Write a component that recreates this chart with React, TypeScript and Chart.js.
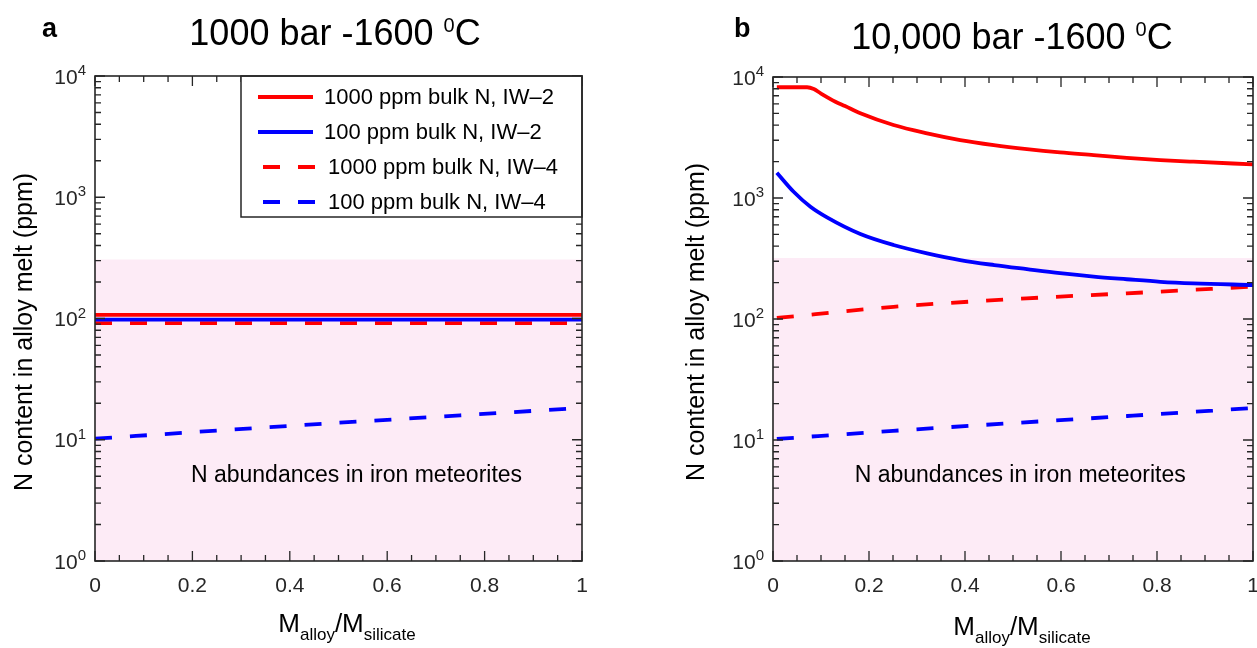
import React, { useEffect, useRef } from "react";
import { Chart, registerables } from "chart.js";
Chart.register(...registerables);

const FONT = '"Liberation Sans", Arial, Helvetica, sans-serif';
const RED = "#ff0000";
const BLUE = "#0000ff";
const PINK = "rgb(253,235,246)";
const AXIS = "#262626";

const seriesLabels = [
  "1000 ppm bulk N, IW\u20132",
  "100 ppm bulk N, IW\u20132",
  "1000 ppm bulk N, IW\u20134",
  "100 ppm bulk N, IW\u20134",
];
const noteText = "N abundances in iron meteorites";
const yAxisTitle = "N content in alloy melt (ppm)";

const xTicks = [0, 0.2, 0.4, 0.6, 0.8, 1];
const xTickLabels = ["0", "0.2", "0.4", "0.6", "0.8", "1"];
const yDecades = [0, 1, 2, 3, 4];
const yTickBase = "10";

// Panel a: 1000 bar
const aFlatX = [0, 1];
const aRedSolid = [107, 107];
const aBlueSolid = [98, 98];
const aRedDash = [91.5, 91.5];
const aBlueDashX = [0, 0.25, 0.5, 0.75, 1];
const aBlueDash = [10.2, 11.9, 13.8, 15.9, 18.3];
const aBandTop = 307;

// Panel b: 10,000 bar
const bRedSolidX = [0.008, 0.071, 0.085, 0.1, 0.13, 0.15, 0.182, 0.251, 0.321, 0.39, 0.46, 0.529, 0.598, 0.668, 0.737, 0.807, 0.876, 1];
const bRedSolid = [8225, 8225, 7950, 7300, 6250, 5750, 5010, 4010, 3425, 3015, 2740, 2540, 2385, 2265, 2150, 2060, 1995, 1897];
const bBlueSolidX = [0.008, 0.043, 0.078, 0.1125, 0.182, 0.251, 0.321, 0.39, 0.461, 0.529, 0.598, 0.668, 0.737, 0.807, 0.876, 1];
const bBlueSolid = [1620, 1127, 847, 692, 504, 409, 349, 307, 279, 258, 239, 224, 213, 203, 197, 191];
const bRedDashX = [0.008, 0.251, 0.528, 0.737, 1];
const bRedDash = [102, 126, 148, 163, 185];
const bBlueDashX = [0.008, 0.25, 0.5, 0.75, 1];
const bBlueDash = [10.2, 11.9, 13.8, 15.9, 18.4];
const bBandTop = 320;

const xy = (xs: number[], ys: number[]) => xs.map((x, i) => ({ x, y: ys[i] }));

type Part = { t: string; size: number; dy: number; bold?: boolean };

function drawParts(ctx: CanvasRenderingContext2D, parts: Part[], cx: number, base: number, align: "center" | "left" = "center") {
  let total = 0;
  const widths = parts.map((p) => {
    ctx.font = `${p.bold ? "bold " : ""}${p.size}px ${FONT}`;
    const w = ctx.measureText(p.t).width;
    total += w;
    return w;
  });
  let x = align === "center" ? cx - total / 2 : cx;
  ctx.textAlign = "left";
  ctx.textBaseline = "alphabetic";
  parts.forEach((p, i) => {
    ctx.font = `${p.bold ? "bold " : ""}${p.size}px ${FONT}`;
    ctx.fillText(p.t, x, base + p.dy);
    x += widths[i];
  });
}

const matlabPlugin = {
  id: "matlab",
  afterDraw(chart: any) {
    const cfg = chart.options.plugins.matlab;
    if (!cfg) return;
    const ctx: CanvasRenderingContext2D = chart.ctx;
    const ca = chart.chartArea;
    const xs = chart.scales.x;
    const ys = chart.scales.y;
    ctx.save();
    ctx.strokeStyle = AXIS;
    ctx.fillStyle = "#000";
    ctx.lineWidth = 1.3;
    ctx.beginPath();
    for (let i = 0; i <= 20; i++) {
      const v = i * 0.05;
      const px = xs.getPixelForValue(v);
      const len = i % 4 === 0 ? 10 : 6;
      ctx.moveTo(px, ca.bottom);
      ctx.lineTo(px, ca.bottom - len);
      ctx.moveTo(px, ca.top);
      ctx.lineTo(px, ca.top + len);
    }
    for (const d of yDecades) {
      for (let m = 1; m <= 9; m++) {
        if (d === 4 && m > 1) break;
        const py = ys.getPixelForValue(m * Math.pow(10, d));
        const len = m === 1 ? 10 : 6;
        ctx.moveTo(ca.left, py);
        ctx.lineTo(ca.left + len, py);
        ctx.moveTo(ca.right, py);
        ctx.lineTo(ca.right - len, py);
      }
    }
    ctx.stroke();

    // legend
    if (cfg.legend) {
      const w = 341, h = 141;
      const L = ca.right - w, T = ca.top;
      ctx.fillStyle = "#fff";
      ctx.fillRect(L, T, w, h);
      ctx.lineWidth = 1.5;
      ctx.strokeStyle = AXIS;
      ctx.strokeRect(L, T, w, h);
      const rows = [21, 56, 91, 126];
      const ds = chart.data.datasets.filter((d: any) => d.label);
      ds.forEach((d: any, i: number) => {
        const y = T + rows[i];
        const dashed = d.borderDash && d.borderDash.length;
        ctx.save();
        ctx.strokeStyle = d.borderColor;
        ctx.lineWidth = d.borderWidth;
        if (dashed) ctx.setLineDash(d.borderDash);
        ctx.beginPath();
        ctx.moveTo(L + (dashed ? 22 : 17), y);
        ctx.lineTo(L + (dashed ? 76 : 72), y);
        ctx.stroke();
        ctx.restore();
        ctx.fillStyle = "#000";
        ctx.font = `22px ${FONT}`;
        ctx.textAlign = "left";
        ctx.textBaseline = "middle";
        ctx.fillText(d.label, L + (dashed ? 87 : 83), y + 1);
      });
    }

    // axes box
    ctx.lineWidth = 1.6;
    ctx.strokeStyle = AXIS;
    ctx.strokeRect(ca.left, ca.top, ca.right - ca.left, ca.bottom - ca.top);

    // x tick labels
    ctx.font = `21px ${FONT}`;
    ctx.textAlign = "center";
    ctx.textBaseline = "alphabetic";
    ctx.fillStyle = "#262626";
    xTicks.forEach((v, i) => {
      ctx.fillText(xTickLabels[i], xs.getPixelForValue(v), ca.bottom + 31);
    });
    // y tick labels
    yDecades.forEach((d) => {
      const py = ys.getPixelForValue(Math.pow(10, d));
      ctx.font = `15px ${FONT}`;
      const sup = String(d);
      const sw = ctx.measureText(sup).width;
      const supX = ca.left - 9 - sw;
      ctx.textAlign = "left";
      ctx.fillText(sup, supX, py - 1);
      ctx.font = `21px ${FONT}`;
      ctx.textAlign = "right";
      ctx.fillText(yTickBase, supX, py + 7.5);
    });
    ctx.fillStyle = "#000";
    // y axis title
    ctx.save();
    ctx.translate(cfg.yTitleX, cfg.yTitleY);
    ctx.rotate(-Math.PI / 2);
    ctx.font = `25px ${FONT}`;
    ctx.textAlign = "center";
    ctx.textBaseline = "middle";
    ctx.fillText(yAxisTitle, 0, 0);
    ctx.restore();
    // x axis title
    drawParts(
      ctx,
      [
        { t: "M", size: 26, dy: 0 },
        { t: "alloy", size: 17, dy: 8 },
        { t: "/M", size: 26, dy: 0 },
        { t: "silicate", size: 17, dy: 8 },
      ],
      cfg.xTitleX,
      ca.bottom + cfg.xTitleDy
    );
    // note
    ctx.font = `23px ${FONT}`;
    ctx.textAlign = "center";
    ctx.textBaseline = "alphabetic";
    ctx.fillText(noteText, xs.getPixelForValue(cfg.noteX), cfg.noteBase);
    // title
    drawParts(
      ctx,
      [
        { t: cfg.titlePre, size: 36, dy: 0 },
        { t: "0", size: 20, dy: -13 },
        { t: "C", size: 36, dy: 0 },
      ],
      cfg.titleX,
      cfg.titleBase
    );
    drawParts(ctx, [{ t: cfg.letter, size: 27, dy: 0, bold: true }], cfg.letterX, cfg.letterBase, "left");
    ctx.restore();
  },
};

function makeChart(canvas: HTMLCanvasElement, datasets: any[], padding: any, matlab: any) {
  return new Chart(canvas, {
    type: "line",
    data: { datasets },
    options: {
      responsive: false,
      animation: false,
      devicePixelRatio: 1,
      layout: { padding },
      elements: { point: { radius: 0 } },
      scales: {
        x: { type: "linear", min: 0, max: 1, display: false },
        y: { type: "logarithmic", min: 1, max: 10000, display: false },
      },
      plugins: {
        legend: { display: false },
        tooltip: { enabled: false },
        // @ts-ignore
        matlab,
      },
    } as any,
    plugins: [matlabPlugin as any],
  });
}

function lineDs(label: string, data: any[], color: string, dashed: boolean, smooth: boolean) {
  return {
    label,
    data,
    borderColor: color,
    borderWidth: 3.8,
    borderDash: dashed ? [17, 18] : [],
    fill: false,
    pointRadius: 0,
    cubicInterpolationMode: smooth ? "monotone" : "default",
    tension: 0,
    order: 1,
  };
}

function bandDs(top: number) {
  return {
    label: "",
    data: xy([0, 1], [top, top]),
    borderWidth: 0,
    borderColor: "rgba(0,0,0,0)",
    backgroundColor: PINK,
    fill: "start",
    pointRadius: 0,
    order: 10,
  };
}

export default function App() {
  const refA = useRef<HTMLCanvasElement>(null);
  const refB = useRef<HTMLCanvasElement>(null);
  useEffect(() => {
    const ca = makeChart(
      refA.current!,
      [
        bandDs(aBandTop),
        lineDs(seriesLabels[0], xy(aFlatX, aRedSolid), RED, false, false),
        lineDs(seriesLabels[1], xy(aFlatX, aBlueSolid), BLUE, false, false),
        lineDs(seriesLabels[2], xy(aFlatX, aRedDash), RED, true, false),
        lineDs(seriesLabels[3], xy(aBlueDashX, aBlueDash), BLUE, true, true),
      ],
      { left: 95, right: 48, top: 76, bottom: 87 },
      {
        legend: true,
        letter: "a",
        letterX: 42,
        letterBase: 37,
        titlePre: "1000 bar -1600 ",
        titleX: 335,
        titleBase: 45,
        yTitleX: 25,
        yTitleY: 332,
        xTitleX: 347,
        xTitleDy: 71,
        noteX: 0.537,
        noteBase: 482,
      }
    );
    const cb = makeChart(
      refB.current!,
      [
        bandDs(bBandTop),
        lineDs(seriesLabels[0], xy(bRedSolidX, bRedSolid), RED, false, true),
        lineDs(seriesLabels[1], xy(bBlueSolidX, bBlueSolid), BLUE, false, true),
        lineDs(seriesLabels[2], xy(bRedDashX, bRedDash), RED, true, true),
        lineDs(seriesLabels[3], xy(bBlueDashX, bBlueDash), BLUE, true, true),
      ],
      { left: 143, right: 4, top: 77, bottom: 87 },
      {
        legend: false,
        letter: "b",
        letterX: 104,
        letterBase: 37,
        titlePre: "10,000 bar -1600 ",
        titleX: 382,
        titleBase: 49,
        yTitleX: 67,
        yTitleY: 322,
        xTitleX: 392,
        xTitleDy: 74,
        noteX: 0.515,
        noteBase: 482,
      }
    );
    return () => {
      ca.destroy();
      cb.destroy();
    };
  }, []);
  return (
    <div style={{ position: "absolute", left: 0, top: 0, width: 1257, height: 648, background: "#fff" }}>
      <canvas ref={refA} width={630} height={648} style={{ position: "absolute", left: 0, top: 0 }} />
      <canvas ref={refB} width={627} height={648} style={{ position: "absolute", left: 630, top: 0 }} />
    </div>
  );
}
